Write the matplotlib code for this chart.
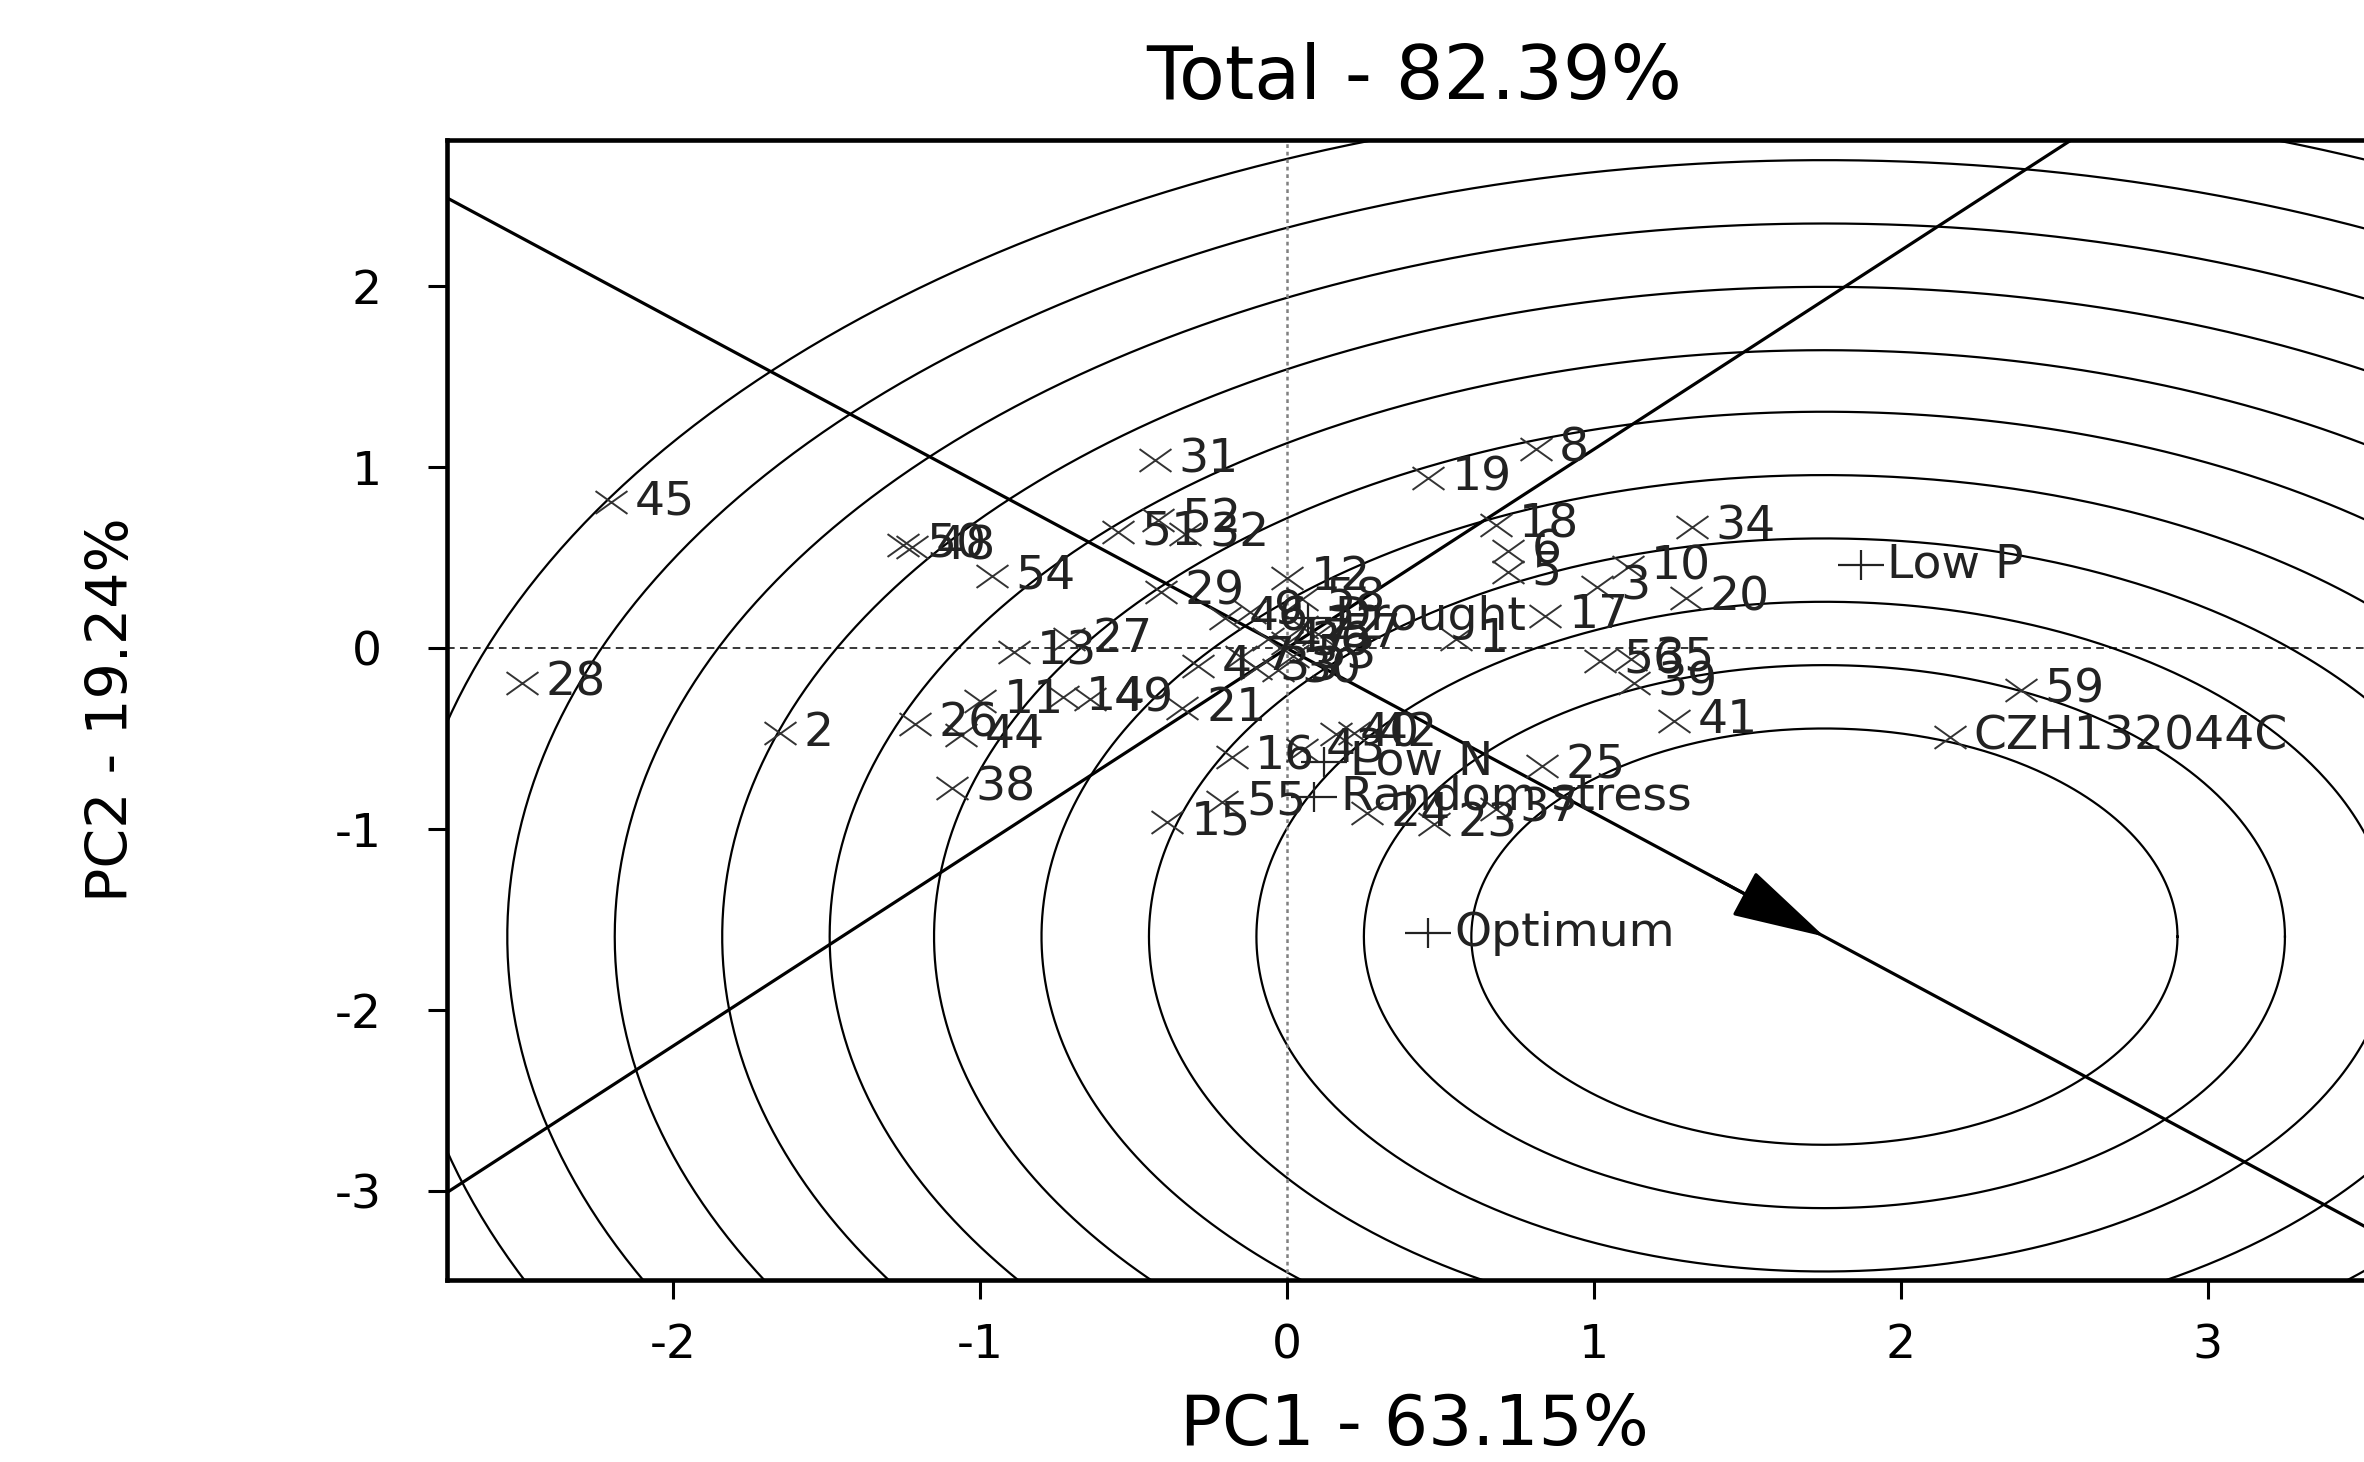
import numpy as np
import matplotlib
matplotlib.use('Agg')
from matplotlib import pyplot as plt
from matplotlib.path import Path

plt.rcParams['font.family'] = ['DejaVu Sans']
plt.rcParams['axes.unicode_minus'] = False

# genotype scores (PC1, PC2)
gen_labels = ['45', '28', '2', '50', '48', '54', '31', '51', '52', '32',
              '29', '27', '13', '11', '14', '49', '26', '44', '38', '21',
              '15', '55', '16', '40', '42', '43', '24', '23', '37', '25',
              '8', '19', '18', '6', '5', '34', '10', '3', '20', '17',
              '1', '56', '35', '39', '41', '59', 'CZH132044C', '12', '58', '46',
              '36', '4', '33', '30', '9', '22', '47', '57', '7', '53']
gen_x = [-2.20, -2.49, -1.65, -1.25, -1.22, -0.96, -0.43, -0.55, -0.42, -0.33,
         -0.41, -0.71, -0.89, -1.00, -0.73, -0.64, -1.21, -1.06, -1.09, -0.34,
         -0.39, -0.21, -0.18, 0.16, 0.22, 0.05, 0.26, 0.48, 0.68, 0.83,
         0.81, 0.46, 0.68, 0.72, 0.72, 1.32, 1.11, 1.01, 1.30, 0.84,
         0.55, 1.02, 1.12, 1.13, 1.26, 2.39, 2.16, 0.00, 0.05, -0.20,
         0.00, -0.29, -0.10, -0.03, -0.12, 0.05, -0.06, 0.10, -0.15, 0.02]
gen_y = [0.81, -0.19, -0.47, 0.57, 0.56, 0.40, 1.04, 0.64, 0.71, 0.63,
         0.31, 0.05, -0.02, -0.29, -0.27, -0.28, -0.42, -0.48, -0.77, -0.33,
         -0.96, -0.85, -0.60, -0.475, -0.47, -0.56, -0.91, -0.97, -0.89, -0.65,
         1.10, 0.94, 0.68, 0.54, 0.42, 0.67, 0.45, 0.34, 0.28, 0.18,
         0.05, -0.07, -0.06, -0.19, -0.40, -0.23, -0.49, 0.39, 0.27, 0.17,
         0.03, -0.10, -0.11, -0.12, 0.20, 0.12, 0.05, 0.08, -0.05, -0.04]

# environment scores
env_labels = ['Low P', 'Drought', 'Low N', 'Random stress', 'Optimum']
env_x = [1.87, 0.07, 0.12, 0.09, 0.46]
env_y = [0.46, 0.17, -0.63, -0.82, -1.575]

ideal = (1.751, -1.593)
ring_radii = [1.15, 1.50, 1.85, 2.20, 2.55, 2.90, 3.24, 3.59, 3.94, 4.29, 4.64]

x_ticks = [-2, -1, 0, 1, 2, 3]
y_ticks = [-3, -2, -1, 0, 1, 2]
title = 'Total - 82.39%'
xlab = 'PC1 - 63.15%'
ylab = 'PC2 - 19.24%'

fig = plt.figure(figsize=(23.64, 14.62), dpi=100)
ax = fig.add_axes([0.189, 0.1245, 0.8186, 0.7797])
ax.set_xlim(-2.736, 3.567)
ax.set_ylim(-3.49, 2.808)

# concentric rings round the ideal genotype
theta = np.linspace(0, 2 * np.pi, 721)
for r in ring_radii:
    ax.plot(ideal[0] + r * np.cos(theta), ideal[1] + r * np.sin(theta),
            color='black', lw=1.6)

# average environment axis and its perpendicular
slope = ideal[1] / ideal[0]
xs = np.array([-6.0, 6.0])
ax.plot(xs, slope * xs, color='black', lw=2.3)
ax.plot(xs, -xs / slope, color='black', lw=2.3)
ax.axhline(0, color='black', lw=1.1, ls=(0, (5, 3.5)))
ax.axvline(0, color='#808080', lw=1.8, ls=(0, (1.5, 1.5)))

ax.annotate('', xy=ideal, xytext=(ideal[0] * 0.8, ideal[1] * 0.8),
            arrowprops=dict(arrowstyle='-|>,head_length=1.5,head_width=0.4',
                            mutation_scale=40, color='black', lw=2.3,
                            shrinkA=0, shrinkB=0))

xmark = Path([(-1.4, -1), (1.4, 1), (-1.4, 1), (1.4, -1)],
             [Path.MOVETO, Path.LINETO, Path.MOVETO, Path.LINETO])
pmark = Path([(-1.5, 0), (1.5, 0), (0, -1), (0, 1)],
             [Path.MOVETO, Path.LINETO, Path.MOVETO, Path.LINETO])

ax.plot(gen_x, gen_y, ls='none', marker=xmark, ms=23, mew=1.4, color='#333333')
for lab, x, y in zip(gen_labels, gen_x, gen_y):
    ax.annotate(lab, (x, y), xytext=(17, 0), textcoords='offset points',
                ha='left', va='center', fontsize=34, color='#222222')

ax.plot(env_x, env_y, ls='none', marker=pmark, ms=33, mew=1.6, color='#222222')
for lab, x, y in zip(env_labels, env_x, env_y):
    ax.annotate(lab, (x, y), xytext=(19, 0), textcoords='offset points',
                ha='left', va='center', fontsize=34, color='#222222')

for s in ax.spines.values():
    s.set_linewidth(3.3)
ax.set_xticks(x_ticks)
ax.set_yticks(y_ticks)
ax.tick_params(direction='out', length=14, width=2.2, labelsize=34)
ax.tick_params(axis='x', pad=17)
ax.tick_params(axis='y', pad=33)

ax.set_title(title, fontsize=54, y=1.029, va='baseline')
ax.set_xlabel(xlab, fontsize=50, va='baseline')
ax.xaxis.set_label_coords(0.5, -0.1446)
ax.set_ylabel(ylab, fontsize=41, va='center', ha='center')
ax.yaxis.set_label_coords(-0.1726, 0.5)

fig.savefig('out.png', dpi=100)
